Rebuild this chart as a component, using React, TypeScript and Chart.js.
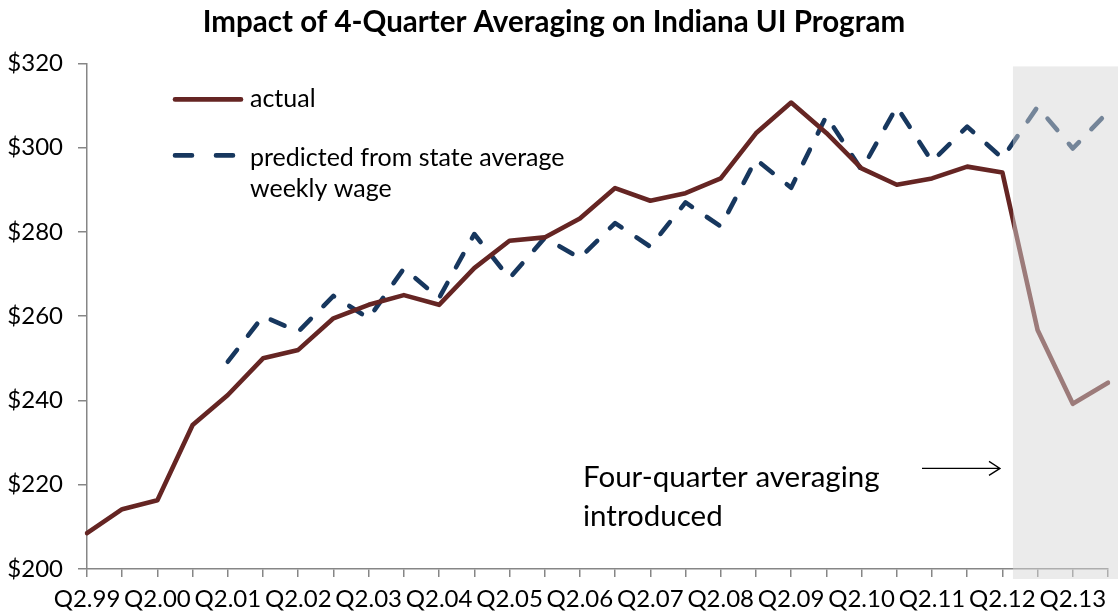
import React, { useEffect, useRef } from 'react';
import { Chart, registerables } from 'chart.js';

Chart.register(...registerables);

const categories = [
  'Q2.99', 'Q4.99', 'Q2.00', 'Q4.00', 'Q2.01', 'Q4.01', 'Q2.02', 'Q4.02',
  'Q2.03', 'Q4.03', 'Q2.04', 'Q4.04', 'Q2.05', 'Q4.05', 'Q2.06', 'Q4.06',
  'Q2.07', 'Q4.07', 'Q2.08', 'Q4.08', 'Q2.09', 'Q4.09', 'Q2.10', 'Q4.10',
  'Q2.11', 'Q4.11', 'Q2.12', 'Q4.12', 'Q2.13', 'Q4.13',
];

const actual = [
  208.5, 214.2, 216.3, 234.2, 241.3, 250.0, 252.0, 259.5, 262.7, 265.0,
  262.7, 271.4, 277.9, 278.7, 283.2, 290.4, 287.4, 289.2, 292.7, 303.4,
  310.7, 303.5, 295.1, 291.2, 292.7, 295.5, 294.1, 256.7, 239.2, 244.2,
];

const predicted = [
  null, null, null, null, 249.2, 260.0, 256.3, 264.8, 259.5, 271.3,
  264.3, 279.5, 269.0, 278.6, 273.8, 282.1, 276.5, 287.0, 281.3, 297.2,
  290.5, 307.5, 294.7, 309.7, 296.7, 305.0, 297.5, 309.7, 299.8, 308.5,
];

const yMin = 200;
const yMax = 320;
const yStep = 20;
const shadeStartIndex = 26.3;

const titleText = 'Impact of 4-Quarter Averaging on Indiana UI Program';
const legendActual = 'actual';
const legendPredicted = ['predicted from state average', 'weekly wage'];
const noteLines = ['Four-quarter averaging', 'introduced'];

const RED = '#652523';
const BLUE = '#17375e';
const AXIS = '#868686';
const FONT = 'Lato';
const LINE_W = 4.6;

const overlayPlugin = {
  id: 'overlayPlugin',
  afterDatasetsDraw(chart: any) {
    const { ctx, chartArea, scales } = chart;
    const x0 = scales.x.getPixelForValue(shadeStartIndex);
    ctx.save();
    ctx.fillStyle = 'rgba(214,214,214,0.49)';
    const top = chartArea.top + 3;
    ctx.fillRect(x0, top, chart.width - x0, chartArea.bottom + 10 - top);
    ctx.restore();
  },
  afterDraw(chart: any) {
    const { ctx, chartArea } = chart;
    const L = chartArea.left;
    const T = chartArea.top;
    ctx.save();
    // legend
    ctx.lineCap = 'round';
    ctx.lineWidth = LINE_W;
    ctx.strokeStyle = RED;
    ctx.beginPath();
    ctx.moveTo(L + 88, T + 36);
    ctx.lineTo(L + 154, T + 36);
    ctx.stroke();
    ctx.strokeStyle = BLUE;
    ctx.setLineDash([17, 24]);
    ctx.beginPath();
    ctx.moveTo(L + 88, T + 92);
    ctx.lineTo(L + 146, T + 92);
    ctx.stroke();
    ctx.setLineDash([]);
    ctx.fillStyle = '#000';
    ctx.font = `25px ${FONT}`;
    ctx.textBaseline = 'middle';
    ctx.textAlign = 'left';
    ctx.fillText(legendActual, L + 163, T + 36);
    ctx.fillText(legendPredicted[0], L + 163, T + 95);
    ctx.fillText(legendPredicted[1], L + 163, T + 126);
    // annotation
    ctx.font = `29.5px ${FONT}`;
    ctx.fillText(noteLines[0], L + 496, T + 414);
    ctx.fillText(noteLines[1], L + 496, T + 453);
    ctx.strokeStyle = '#000';
    ctx.lineWidth = 1.3;
    ctx.lineCap = 'butt';
    ctx.beginPath();
    ctx.moveTo(L + 835, T + 405);
    ctx.lineTo(L + 913, T + 405);
    ctx.moveTo(L + 902, T + 398);
    ctx.lineTo(L + 913, T + 405);
    ctx.lineTo(L + 902, T + 412);
    ctx.stroke();
    ctx.restore();
  },
};

export default function App() {
  const canvasRef = useRef<HTMLCanvasElement | null>(null);

  useEffect(() => {
    if (!canvasRef.current) return;
    const chart = new Chart(canvasRef.current, {
      type: 'line',
      data: {
        labels: categories,
        datasets: [
          {
            label: 'actual',
            data: actual,
            borderColor: RED,
            borderWidth: LINE_W,
            pointRadius: 0,
            tension: 0,
            borderJoinStyle: 'round',
            borderCapStyle: 'round',
          },
          {
            label: 'predicted from state average weekly wage',
            data: predicted,
            borderColor: BLUE,
            borderWidth: LINE_W,
            borderDash: [15, 18],
            borderCapStyle: 'round',
            borderJoinStyle: 'round',
            pointRadius: 0,
            tension: 0,
          },
        ],
      },
      options: {
        responsive: false,
        animation: false,
        layout: { padding: { left: 0, right: 10, top: 0, bottom: 0 } },
        plugins: {
          legend: { display: false },
          tooltip: { enabled: false },
          title: {
            display: true,
            text: titleText,
            color: '#000',
            font: { family: FONT, size: 29.5, weight: 'bold' },
            padding: { top: 5, bottom: 23 },
          },
        },
        scales: {
          x: {
            type: 'category',
            offset: false,
            grid: {
              display: true,
              drawOnChartArea: false,
              drawTicks: true,
              tickLength: 8,
              color: AXIS,
              lineWidth: 1.5,
            },
            border: { display: true, color: AXIS, width: 1.5 },
            ticks: {
              autoSkip: false,
              maxRotation: 0,
              minRotation: 0,
              padding: 8,
              color: '#000',
              font: { family: FONT, size: 24 },
              callback: (_v: any, i: number) => (i % 2 === 0 ? categories[i] : ''),
            },
            afterFit: (scale: any) => {
              scale.height = 46;
            },
          },
          y: {
            min: yMin,
            max: yMax,
            grid: {
              display: true,
              drawOnChartArea: false,
              drawTicks: true,
              tickLength: 9,
              color: AXIS,
              lineWidth: 1.5,
            },
            border: { display: true, color: AXIS, width: 1.5 },
            ticks: {
              stepSize: yStep,
              padding: 15,
              color: '#000',
              font: { family: FONT, size: 24 },
              callback: (v: any) => '$' + v,
            },
            afterFit: (scale: any) => {
              scale.width = 87;
            },
          },
        },
      },
      plugins: [overlayPlugin],
    });
    return () => chart.destroy();
  }, []);

  return (
    <div style={{ position: 'fixed', left: 0, top: 0, width: 1118, height: 615, background: '#fff' }}>
      <canvas ref={canvasRef} width={1118} height={615} />
    </div>
  );
}
